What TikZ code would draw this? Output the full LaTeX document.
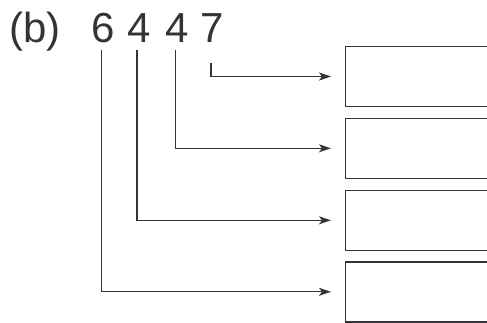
\documentclass[tikz,border=0pt]{standalone}
\usepackage{fontspec}
\setmainfont{Liberation Sans}
\usetikzlibrary{arrows.meta}
\definecolor{ink}{HTML}{333338}
\tikzset{
  digit/.style={inner sep=0pt, anchor=base, font=\fontsize{42}{42}\selectfont, text=ink},
  slot/.style={draw=ink, line width=1.4pt, minimum width=160pt, minimum height=60pt, anchor=west, inner sep=0pt},
  conn/.style={draw=ink, line width=1.3pt, -{Stealth[length=12pt,width=8pt,inset=3pt]}, shorten >=14pt}
}
\begin{document}
\begin{tikzpicture}[x=1pt,y=-1pt]
\useasboundingbox (0,0) rectangle (487,323);
\node[digit, anchor=base west] (lbl) at (9,43) {(b)};
\node[digit] (d1) at (103,43) {6};
\node[digit] (d2) at (139,43) {4};
\node[digit] (d3) at (177,43) {4};
\node[digit] (d4) at (212,43) {7};
\coordinate (s1) at (101.7,50);
\coordinate (s2) at (137,50);
\coordinate (s3) at (175.7,50);
\coordinate (s4) at (211,63);
\node[slot] (b1) at (345,76.5) {};
\node[slot] (b2) at (345,148.3) {};
\node[slot] (b3) at (345,220.3) {};
\node[slot] (b4) at (345,291.8) {};
\draw[conn] (s4) |- (b1.west);
\draw[conn] (s3) |- (b2.west);
\draw[conn] (s2) |- (b3.west);
\draw[conn] (s1) |- (b4.west);
\end{tikzpicture}
\end{document}
